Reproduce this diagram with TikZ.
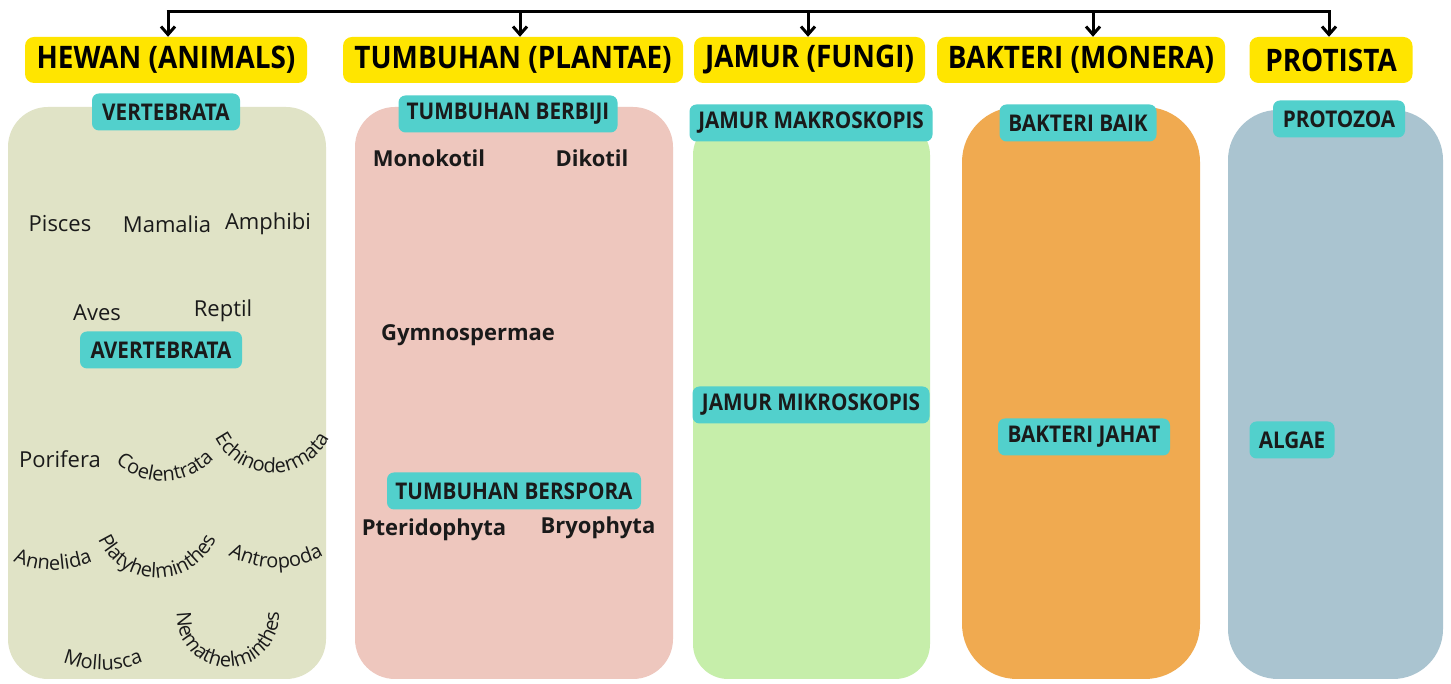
\documentclass[tikz,border=0pt]{standalone}
\usepackage{fontspec}
\setmainfont{Open Sans}
\newfontfamily\condf[FakeStretch=0.9]{Open Sans}
\usetikzlibrary{arrows.meta,decorations.text}
\definecolor{ylw}{HTML}{FFE500}
\definecolor{teal1}{HTML}{52D0CC}
\definecolor{pa}{HTML}{E0E3C6}
\definecolor{pb}{HTML}{EEC7BE}
\definecolor{pc}{HTML}{C6EEAA}
\definecolor{pd}{HTML}{F0AA50}
\definecolor{pe}{HTML}{AAC4D0}
\definecolor{txt}{HTML}{1A1A1A}
\newcommand\cfont{\fontsize{20}{22}\selectfont\color{txt}}
\newcommand\curv[5]{\path[decorate,decoration={text along path,text align=center,text={|\cfont|#5}}] (#1) ++(#2:#4pt) arc[start angle=#2,end angle=#3,radius=#4pt];}
\begin{document}
\begin{tikzpicture}[x=1pt,y=1pt,
  kingdom/.style={fill=ylw, rounded corners=9pt, inner sep=0pt, minimum height=46pt, font=\condf\bfseries\fontsize{31}{36}\selectfont, text=black},
  sub/.style={fill=teal1, rounded corners=7pt, inner sep=0pt, minimum height=37pt, font=\condf\bfseries\fontsize{23}{26}\selectfont, text=txt},
  plain/.style={font=\fontsize{22}{26}\selectfont, text=txt, inner sep=0pt},
  bold/.style={font=\bfseries\fontsize{22}{26}\selectfont, text=txt, inner sep=0pt},
  arr/.style={line width=3pt, -{Straight Barb[length=8pt,width=14pt,line width=3pt]}}
]
\useasboundingbox (0,0) rectangle (1451,684);
\fill[white] (0,0) rectangle (1451,684);
% panels
\fill[pa, rounded corners=40pt] (8,5) rectangle (326,577);
\fill[pb, rounded corners=40pt] (355,5) rectangle (673,577);
\fill[pc, rounded corners=35pt] (693,5) rectangle (930,564);
\fill[pe, rounded corners=50pt] (1228,5) rectangle (1443,574);
\fill[pd, rounded corners=55pt] (962,5) rectangle (1200,577);
% kingdoms
\node[kingdom, minimum width=282pt] (h1) at (166,624) {HEWAN (ANIMALS)};
\node[kingdom, minimum width=340pt] (h2) at (513,624) {TUMBUHAN (PLANTAE)};
\node[kingdom, minimum width=231pt] (h3) at (809.5,624) {JAMUR (FUNGI)};
\node[kingdom, minimum width=288pt] (h4) at (1081,624) {BAKTERI (MONERA)};
\node[kingdom, minimum width=163pt] (h5) at (1331,624) {PROTISTA};
% arrows
\coordinate (t1) at (168,672);
\coordinate (t2) at (520,672);
\coordinate (t3) at (808,672);
\coordinate (t4) at (1093,672);
\coordinate (t5) at (1329,672);
\draw[line width=3pt] ([xshift=-1.5pt]t1) -- ([xshift=1.5pt]t5);
\draw[arr] (t1) -- (t1 |- h1.north);
\draw[arr] (t2) -- (t2 |- h2.north);
\draw[arr] (t3) -- (t3 |- h3.north);
\draw[arr] (t4) -- (t4 |- h4.north);
\draw[arr] (t5) -- (t5 |- h5.north);
% sub labels
\node[sub, minimum width=148pt] (s1) at (166,572) {VERTEBRATA};
\node[sub, minimum width=162pt] (s2) at (161,334) {AVERTEBRATA};
\node[sub, minimum width=219pt] (s3) at (508,570) {TUMBUHAN BERBIJI};
\node[sub, minimum width=254pt] (s4) at (514,193) {TUMBUHAN BERSPORA};
\node[sub, minimum width=243pt] (s5) at (811,561) {JAMUR MAKROSKOPIS};
\node[sub, minimum width=237pt] (s6) at (811,279) {JAMUR MIKROSKOPIS};
\node[sub, minimum width=157pt] (s7) at (1078,561) {BAKTERI BAIK};
\node[sub, minimum width=172pt] (s8) at (1084,247) {BAKTERI JAHAT};
\node[sub, minimum width=132pt] (s9) at (1339,565) {PROTOZOA};
\node[sub, minimum width=85pt] (s10) at (1292,244) {ALGAE};
% animals
\node[plain] (a1) at (60,460) {Pisces};
\node[plain] (a2) at (167,460) {Mamalia};
\node[plain] (a3) at (268,460) {Amphibi};
\node[plain] (a4) at (97,371) {Aves};
\node[plain] (a5) at (223,373) {Reptil};
\node[plain] (a6) at (60,225) {Porifera};
\curv{163,274}{226}{318}{71}{Coelentrata}
\curv{272,275}{200}{340}{64}{Echinodermata}
\curv{53,214}{244}{296}{100}{Annelida}
\curv{276,210}{238}{302}{94}{Antropoda}
\curv{157,170}{190}{350}{64}{Platyhelminthes}
\curv{103,121}{246}{294}{107}{Mollusca}
\curv{228,68}{165}{375}{51}{Nemathelminthes}
% plants
\node[bold] (b1) at (429,526) {Monokotil};
\node[bold] (b2) at (592,526) {Dikotil};
\node[bold] (b3) at (468,349) {Gymnospermae};
\node[bold] (b4) at (434,154) {Pteridophyta};
\node[bold] (b5) at (598,156) {Bryophyta};
\end{tikzpicture}
\end{document}
